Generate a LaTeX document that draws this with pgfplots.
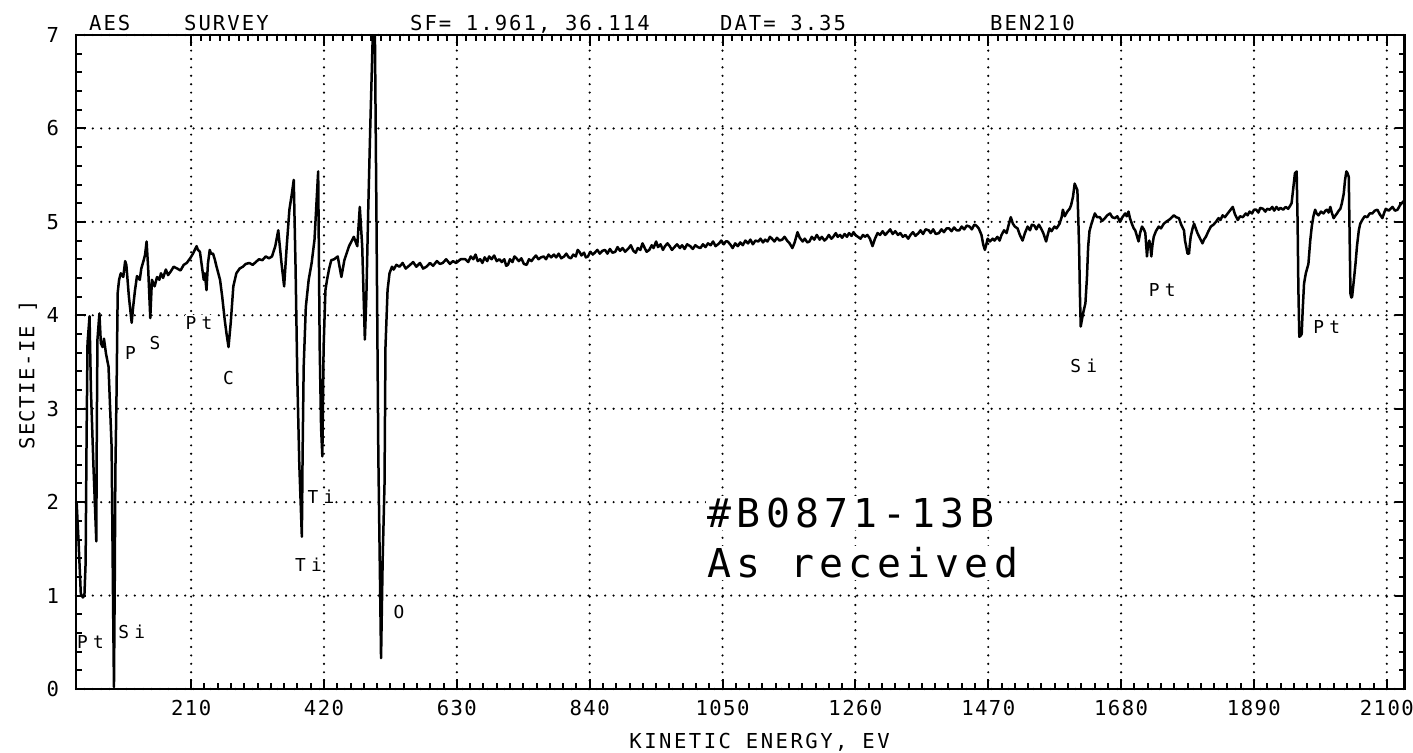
\documentclass[border=0pt]{standalone}
\usepackage{fontspec}
\usepackage{pgfplots}
\pgfplotsset{compat=1.18}
\setmainfont{DejaVu Sans Mono}
\newfontfamily\tickfam[LetterSpace=7]{DejaVu Sans Mono}
\newfontfamily\titlefam[LetterSpace=10]{DejaVu Sans Mono}
\newfontfamily\labfam[LetterSpace=12]{DejaVu Sans Mono}
\newfontfamily\peakfam[LetterSpace=30]{DejaVu Sans Mono}
\newfontfamily\bigfam[LetterSpace=13]{DejaVu Sans Mono}
\newcommand\tf{\tickfam\fontsize{10.3pt}{12pt}\selectfont}
\newcommand\ttf{\titlefam\fontsize{10.3pt}{12pt}\selectfont}
\newcommand\lf{\labfam\fontsize{10.3pt}{12pt}\selectfont}
\newcommand\pkf{\peakfam\fontsize{8.9pt}{10pt}\selectfont}
\newcommand\bgf{\bigfam\fontsize{19.9pt}{22pt}\selectfont}
\begin{document}
\begin{tikzpicture}
\useasboundingbox (0,0) rectangle (706.5pt,376pt);
\begin{axis}[
  at={(38pt,31.5pt)}, anchor=south west, scale only axis,
  width=664.25pt, height=327pt,
  xmin=28, xmax=2128, ymin=0, ymax=7,
  xtick={210,420,...,2100},
  xticklabels={210,420,630,840,1050,1260,1470,1680,1890,2100},
  ytick={0,1,...,7}, yticklabels={0,1,2,3,4,5,6,7},
  minor x tick num=9, minor y tick num=4,
  xtick pos=left, ytick pos=both,
  tick align=inside,
  major tick length=5pt, minor tick length=3pt,
  every tick/.style={line width=1pt, black},
  axis line style={line width=1.3pt},
  grid=major,
  major grid style={line width=1.2pt, line cap=round, dash pattern=on 0pt off 4.2pt, black},
  xticklabel style={font=\tf, yshift=-2pt},
  yticklabel style={font=\tf, xshift=-5pt},
]
\addplot[black, line width=1.25pt, line join=round] coordinates {
(29,2.0) (31.9,1.6) (35.6,1.02) (38.8,0.98) (41.3,1.0) (43.2,1.35) (44.7,2.67) (46.2,3.70) (49.4,3.99) (51.6,3.2) (55.5,2.4) (60.1,1.58) (60.9,2.8) (61.9,3.74) (65,4.02) (67.3,3.7) (70.1,3.66) (72.2,3.75) (75.4,3.59) (79.4,3.45) (84.3,2.59) (86.5,1.0) (88,0.02) (89.3,1.2) (90.2,2.31) (92.1,3.17) (93.9,4.24) (96.1,4.38) (98.8,4.45) (102.7,4.41) (105.7,4.58) (107.6,4.54) (111.6,4.2) (116,3.92) (118.5,4.1) (121.3,4.27) (124.4,4.42) (128.8,4.38) (131.2,4.5) (135,4.59) (137.2,4.65) (139.6,4.79) (142.1,4.5) (145.4,3.97) (148,4.38) (152.3,4.31) (156.1,4.41) (159.8,4.38) (162.3,4.45) (165.7,4.40) (170,4.49) (173.5,4.43) (177.8,4.47) (182.4,4.52) (188.1,4.50) (193.2,4.48) (198.3,4.54) (203,4.56) (208.5,4.61) (212.9,4.66) (218.6,4.74) (220.7,4.70) (223.9,4.68) (229.9,4.38) (231.6,4.45) (234.3,4.27) (236.5,4.55) (239.4,4.70) (241.4,4.66) (244.6,4.66) (247.3,4.60) (250.2,4.52) (255.7,4.38) (259.1,4.2) (263.1,3.95) (266,3.8) (269.1,3.66) (272.6,3.92) (276.7,4.31) (281.5,4.45) (286.6,4.50) (291.7,4.52) (296.5,4.55) (302,4.56) (307.3,4.54) (312.3,4.57) (317.1,4.60) (322.6,4.59) (327.9,4.63) (333,4.61) (337.8,4.63) (343,4.74) (347.7,4.91) (352.8,4.56) (357,4.31) (361.1,4.74) (365.3,5.13) (369.2,5.3) (372.2,5.45) (375.1,4.5) (377.9,3.31) (381,2.4) (385,1.63) (386.2,2.52) (387.9,3.45) (391.3,4.09) (395.8,4.38) (400.5,4.56) (405,4.81) (408.1,5.2) (410.8,5.54) (413.2,3.66) (415.4,2.8) (417.4,2.49) (419.4,3.66) (422.3,4.27) (424.8,4.38) (428.2,4.5) (431.5,4.59) (436.1,4.6) (441.7,4.63) (447.5,4.41) (452.2,4.59) (459.6,4.74) (467.1,4.84) (472.6,4.74) (476.6,5.16) (480.4,4.74) (484.6,3.74) (487,4.20) (489.8,5.09) (493.1,6.0) (497.1,7.0) (500,7.4) (503,5.0) (505.9,2.5) (510.2,0.33) (512.8,1.4) (515.7,2.20) (517.2,3.66) (520.5,4.27) (523.6,4.45) (527.5,4.52) (530.2,4.49) (534.4,4.54) (539.3,4.52) (544.3,4.56) (549.2,4.5) (556.1,4.54) (561,4.57) (565.9,4.52) (571.8,4.56) (576.7,4.5) (582,4.52) (587.5,4.56) (592.5,4.53) (598.4,4.58) (603.3,4.55) (607.8,4.56) (613.1,4.60) (619,4.55) (623.9,4.58) (628.8,4.56) (636,4.60)
(643.4,4.60) (648,4.57) (652,4.63) (656,4.60) (659.6,4.65) (663,4.58) (667,4.60) (670.4,4.56) (674,4.62) (678,4.58) (681.1,4.63) (685,4.60) (689,4.64) (693,4.58) (697.3,4.60) (701,4.57) (705,4.60) (708,4.53) (710.8,4.54) (714,4.60) (718,4.57) (721,4.63) (724.2,4.61) (728,4.58) (732,4.61) (736,4.55) (740.4,4.54) (744,4.60) (748,4.58) (751.1,4.61) (755,4.64) (759,4.60) (763,4.62) (767.3,4.63) (771,4.60) (775,4.65) (779,4.62) (783.5,4.65) (787,4.62) (791,4.66) (795,4.61) (799.6,4.63) (803,4.66) (807,4.62) (810.4,4.61) (814,4.65) (818,4.63) (821,4.70) (823.8,4.68) (827,4.64) (831,4.67) (834,4.62) (837.3,4.63) (841,4.68) (845,4.65) (848.1,4.67) (852,4.70) (856,4.66) (860,4.69) (864.2,4.70) (868,4.66) (872,4.71) (876,4.67) (880.4,4.68) (884,4.73) (888,4.69) (892,4.72) (896,4.68) (901.9,4.72) (905,4.75) (909,4.69) (912.7,4.67) (916,4.72) (920,4.70) (923.5,4.77) (927,4.72) (930,4.68) (934.2,4.70) (938,4.75) (941,4.72) (945,4.79) (948,4.73) (952,4.76) (955.8,4.70) (959,4.74) (963,4.77) (966.5,4.74) (970,4.70) (974,4.73) (978,4.76) (982.7,4.72) (986,4.75) (990,4.71) (994,4.76) (998.9,4.74) (1003,4.71) (1007,4.75) (1011,4.73) (1015,4.72) (1019,4.76) (1023,4.73) (1027,4.77) (1031.2,4.75) (1035,4.79) (1039,4.74) (1044.6,4.77) (1048,4.80) (1052,4.76) (1055,4.79) (1058.1,4.79) (1062,4.76) (1066,4.72) (1070,4.77) (1074.2,4.74) (1078,4.78) (1082,4.75) (1086,4.80) (1090.4,4.77) (1094,4.81) (1098,4.76) (1102,4.80) (1106.6,4.79) (1110,4.82) (1114,4.78) (1117.3,4.81) (1121,4.79) (1125,4.84) (1128.1,4.82) (1132,4.79) (1136,4.83) (1140,4.80) (1144.3,4.81) (1148,4.84) (1152,4.80) (1156,4.77) (1160.4,4.72) (1164,4.78) (1168.5,4.89) (1172,4.83) (1176.6,4.79) (1180,4.82) (1184,4.78) (1187.3,4.79) (1191,4.84) (1195,4.81) (1199,4.86) (1203.5,4.81) (1207,4.84) (1211,4.80) (1214.3,4.82) (1218,4.86) (1222,4.82) (1225,4.84) (1229,4.88) (1232,4.84) (1235.8,4.86) (1239,4.83) (1243,4.87) (1246.6,4.84) (1250,4.88) (1254,4.85) (1257,4.89) (1260,4.86) (1264,4.84) (1268.1,4.82) (1272,4.86) (1275,4.84) (1278.9,4.86) (1283,4.82) (1287,4.74) (1291,4.82) (1295,4.88) (1299,4.86) (1303,4.90) (1307,4.86) (1311.2,4.89) (1315,4.92) (1319,4.87) (1323,4.90) (1327.3,4.86) (1331,4.88) (1335,4.84) (1339,4.86) (1343.5,4.82) (1347,4.86) (1351,4.89) (1355,4.85) (1359.7,4.88) (1363,4.91) (1367,4.87) (1371,4.92) (1375.8,4.91) (1379,4.88) (1383,4.92) (1387,4.87) (1392,4.88) (1396,4.92) (1400,4.89) (1404,4.93) (1408.1,4.93) (1412,4.90) (1416,4.94) (1420,4.91) (1424.3,4.91) (1428,4.95) (1432,4.92) (1436,4.96) (1440.4,4.95) (1444,4.92) (1448,4.97) (1451.2,4.96) (1455,4.93) (1459.3,4.86) (1462,4.76) (1464.7,4.70) (1467,4.76) (1469,4.82) (1472.7,4.79) (1477,4.82) (1480,4.80)
(1484.4,4.84) (1488,4.80) (1491,4.86) (1495,4.91) (1499,4.88) (1502,4.96) (1505.6,5.05) (1509,4.98) (1512,4.95) (1516.3,4.93) (1520,4.86) (1524.2,4.80) (1528,4.88) (1532.2,4.95) (1536,4.91) (1539,4.97) (1542.8,4.96) (1546,4.92) (1550,4.97) (1553.5,4.93) (1557,4.88) (1561.5,4.79) (1564,4.86) (1566.8,4.93) (1570,4.90) (1574.7,4.95) (1578,4.93) (1582.7,4.98) (1586,5.05) (1588,5.13) (1591,5.06) (1593.3,5.09) (1596,5.12) (1598.7,5.14) (1601,5.18) (1604,5.27) (1606.6,5.41) (1609,5.37) (1610.9,5.34) (1612.5,5.0) (1613.6,4.73) (1615,4.2) (1616.2,3.88) (1618,3.95) (1619.9,4.02) (1623.6,4.13) (1626,4.4) (1627.9,4.73) (1630,4.90) (1633.2,4.98) (1636,5.04) (1638.5,5.09) (1642,5.05) (1646.5,5.05) (1650,5.01) (1654.5,5.04) (1658,5.07) (1662.5,5.09) (1666,5.05) (1670.4,5.04) (1674,5.06) (1678.4,5.00) (1682,5.05) (1686.4,5.09) (1689,5.06) (1691.7,5.11) (1694,5.04) (1697,4.98) (1700,4.93) (1702.3,4.91) (1705,4.85) (1707.6,4.79) (1710,4.88) (1713,4.95) (1716,4.92) (1718.3,4.88) (1720,4.72) (1720.9,4.63) (1722.5,4.75) (1724.7,4.80) (1726.5,4.72) (1727.8,4.63) (1729.5,4.75) (1731.6,4.84) (1735,4.90) (1739.5,4.95) (1743,4.93) (1747.5,4.98) (1751,5.00) (1755.5,5.02) (1759,5.04) (1763.5,5.07) (1767,5.05) (1771.4,5.04) (1775,4.97) (1779.4,4.91) (1781,4.80) (1783.1,4.73) (1785,4.66) (1787.4,4.66) (1788.5,4.75) (1790,4.84) (1793,4.93) (1795.4,4.98) (1798,4.93) (1800.7,4.88) (1805,4.82) (1808.6,4.77) (1811,4.81) (1814,4.84) (1818,4.90) (1821.9,4.95) (1826,4.97) (1829.9,5.00) (1834,5.04) (1837,5.02) (1840.5,5.07) (1844,5.05) (1848.5,5.09) (1852,5.12) (1856.5,5.16) (1860,5.08) (1864.5,5.02) (1868,5.06) (1872.4,5.05) (1877,5.09) (1880,5.07) (1883.1,5.11) (1887,5.09) (1890,5.13) (1893.7,5.13) (1897,5.10) (1900,5.15) (1904.3,5.14) (1908,5.11) (1911,5.14) (1915,5.13) (1919,5.16) (1922,5.12) (1925.6,5.16) (1929,5.13) (1932,5.15) (1936.2,5.13) (1940,5.16) (1944.2,5.14) (1947,5.17) (1949.5,5.20) (1952,5.35) (1954.8,5.52) (1957.5,5.54) (1959,5.0) (1960.2,4.30) (1961.7,3.77) (1963.5,3.78) (1965.5,3.80) (1967,4.05) (1969.2,4.34) (1972,4.45) (1976.1,4.55) (1979,4.80) (1981.4,4.95) (1984,5.06) (1986.7,5.13) (1989,5.09) (1992,5.07) (1996,5.11) (2000,5.09) (2003,5.12) (2005.3,5.13) (2008,5.10) (2010.7,5.16) (2013,5.10) (2016,5.04) (2019,5.07) (2021.3,5.09) (2024,5.12) (2026.6,5.14) (2029,5.20) (2031.9,5.30) (2034,5.45) (2036.2,5.54) (2038,5.52) (2039.9,5.48) (2040.7,5.1) (2041.5,4.73) (2042.6,4.23) (2044,4.19) (2045.2,4.20) (2048,4.38) (2050.5,4.55) (2053,4.75) (2055.8,4.91) (2058,4.98) (2061.2,5.02) (2065,5.06) (2069.1,5.05) (2073,5.09) (2077.1,5.09) (2081,5.12) (2085.1,5.13) (2089,5.08) (2093,5.04) (2096,5.10) (2098.4,5.14) (2103,5.12) (2109,5.16) (2113,5.12) (2117,5.13) (2121,5.18) (2125,5.21) (2128,5.23)
};
\node[font=\pkf, fill=white, inner sep=0.5pt] at (axis cs:51,0.50) {Pt};
\node[font=\pkf, fill=white, inner sep=0.5pt] at (axis cs:116,0.61) {Si};
\node[font=\pkf, fill=white, inner sep=0.5pt] at (axis cs:114.3,3.60) {P};
\node[font=\pkf, fill=white, inner sep=0.5pt] at (axis cs:152.9,3.70) {S};
\node[font=\pkf, fill=white, inner sep=0.5pt] at (axis cs:222.3,3.92) {Pt};
\node[font=\pkf, fill=white, inner sep=0.5pt] at (axis cs:269,3.33) {C};
\node[font=\pkf, fill=white, inner sep=0.5pt] at (axis cs:415.4,2.06) {Ti};
\node[font=\pkf, fill=white, inner sep=0.5pt] at (axis cs:395.6,1.33) {Ti};
\node[font=\pkf, fill=white, inner sep=0.5pt] at (axis cs:538.5,0.82) {O};
\node[font=\pkf, fill=white, inner sep=0.5pt] at (axis cs:1621,3.46) {Si};
\node[font=\pkf, fill=white, inner sep=0.5pt] at (axis cs:1745,4.27) {Pt};
\node[font=\pkf, fill=white, inner sep=0.5pt] at (axis cs:2005,3.875) {Pt};
\node[font=\bgf, fill=white, inner sep=1pt, anchor=base west] at (axis cs:1023,1.73) {\#B0871-13B};
\node[font=\bgf, fill=white, inner sep=1pt, anchor=base west] at (axis cs:1023,1.19) {As received};
\end{axis}
\begin{axis}[
  at={(38pt,31.5pt)}, anchor=south west, scale only axis,
  width=664.25pt, height=327pt,
  xmin=28, xmax=2128, ymin=0, ymax=7,
  xtick={210,420,...,2100}, xticklabels={},
  minor x tick num=13,
  xtick pos=right, ytick=\empty,
  tick align=inside,
  major tick length=5.5pt, minor tick length=3pt,
  every tick/.style={line width=1pt, black},
  axis line style={line width=1.3pt},
]
\end{axis}
\node[font=\ttf, anchor=base west] at (41pt,361pt) {AES};
\node[font=\ttf, anchor=base west] at (88.5pt,361pt) {SURVEY};
\node[font=\ttf, anchor=base west] at (201.5pt,361pt) {SF= 1.961, 36.114};
\node[font=\ttf, anchor=base west] at (356.5pt,361pt) {DAT= 3.35};
\node[font=\ttf, anchor=base west] at (491.5pt,361pt) {BEN210};
\node[font=\lf, anchor=west, inner sep=0pt] at (314.5pt,5pt) {KINETIC ENERGY, EV};
\node[font=\tf, rotate=90, inner sep=0pt] at (14pt,188.5pt) {SECTIE-IE ]};
\end{tikzpicture}
\end{document}
